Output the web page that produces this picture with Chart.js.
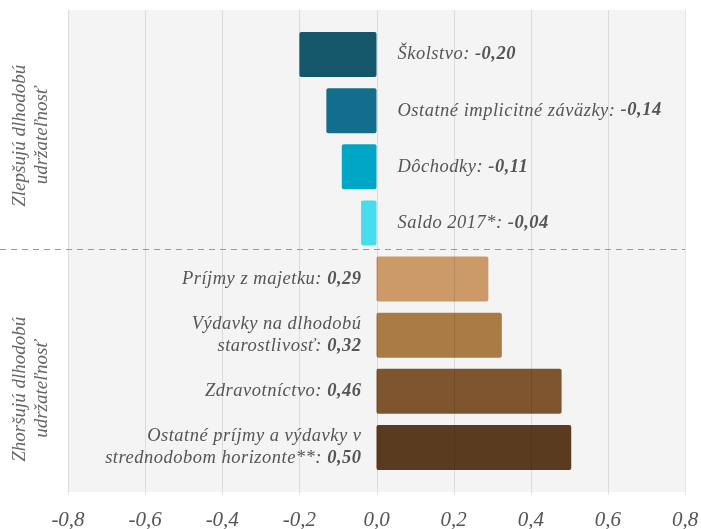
<!DOCTYPE html>
<html>
<head>
<meta charset="utf-8">
<script src="https://cdn.jsdelivr.net/npm/chart.js@4.4.1/dist/chart.umd.min.js"></script>
<style>
  html, body { margin: 0; padding: 0; background: #fff; }
</style>
</head>
<body>
<canvas id="chart" width="701" height="529"></canvas>
<script>
// categories (multi-line ones as arrays)
const categories = [
  'Školstvo',
  'Ostatné implicitné záväzky',
  'Dôchodky',
  'Saldo 2017*',
  'Príjmy z majetku',
  ['Výdavky na dlhodobú', 'starostlivosť'],
  'Zdravotníctvo',
  ['Ostatné príjmy a výdavky v', 'strednodobom horizonte**']
];
// bar lengths as drawn in the picture
const barValues = [-0.20, -0.13, -0.09, -0.04, 0.29, 0.325, 0.48, 0.505];
// values as printed next to the bars
const printedValues = ['-0,20', '-0,14', '-0,11', '-0,04', '0,29', '0,32', '0,46', '0,50'];
const barColors = ['#14576b', '#136d8c', '#00a6c6', '#48dcef', '#cc9a69', '#ab7b45', '#7f552f', '#5b3b20'];
const groupLabels = [['Zlepšujú dlhodobú', 'udržateľnosť'], ['Zhoršujú dlhodobú', 'udržateľnosť']];
const groupSize = 4;
const xTickValues = [-0.8, -0.6, -0.4, -0.2, 0, 0.2, 0.4, 0.6, 0.8];

const FONT = '"Liberation Serif", "DejaVu Serif", serif';
const TEXT = '#555';

const decor = {
  id: 'decor',
  beforeDatasetsDraw(chart) {
    const { ctx, chartArea: a } = chart;
    ctx.save();
    ctx.fillStyle = '#f4f4f4';
    ctx.fillRect(a.left, a.top - 16.5, a.right - a.left, a.bottom - a.top + 33);
    ctx.restore();
  },
  afterDatasetsDraw(chart) {
    const { ctx, chartArea: a } = chart;
    const x = chart.scales.x, y = chart.scales.y;
    ctx.save();
    // vertical grid lines on top of the bars
    ctx.strokeStyle = 'rgba(0,0,0,0.1)';
    ctx.lineWidth = 1;
    x.ticks.forEach(t => {
      const px = Math.round(x.getPixelForValue(t.value)) + 0.5;
      ctx.beginPath();
      ctx.moveTo(px, a.top - 16.5);
      ctx.lineTo(px, a.bottom + 19.5);
      ctx.stroke();
    });
    // dashed separator between the groups
    const sepY = Math.round((y.getPixelForValue(groupSize - 1) + y.getPixelForValue(groupSize)) / 2) - 1.5;
    ctx.strokeStyle = '#999';
    ctx.setLineDash([6, 5]);
    ctx.beginPath();
    ctx.moveTo(0, sepY);
    ctx.lineTo(a.right, sepY);
    ctx.stroke();
    ctx.setLineDash([]);

    // bar labels
    const zero = x.getPixelForValue(0);
    const normal = 'italic 18.5px ' + FONT;
    const bold = 'italic bold 18.5px ' + FONT;
    ctx.fillStyle = TEXT;
    ctx.textBaseline = 'middle';
    ctx.letterSpacing = '0.5px';
    categories.forEach((cat, i) => {
      const lines = Array.isArray(cat) ? cat.slice() : [cat];
      const cy = y.getPixelForValue(i);
      const lh = 22;
      const y0 = cy - (lines.length - 1) * lh / 2;
      lines.forEach((ln, j) => {
        const ly = y0 + j * lh;
        const last = j === lines.length - 1;
        const txt = last ? ln + ': ' : ln;
        const val = last ? printedValues[i] : '';
        ctx.font = normal;
        const wTxt = ctx.measureText(txt).width;
        ctx.font = bold;
        const wVal = ctx.measureText(val).width;
        if (barValues[i] < 0) {
          const lx = zero + 21;
          ctx.textAlign = 'left';
          ctx.font = normal;
          ctx.fillText(txt, lx, ly);
          ctx.font = bold;
          ctx.fillText(val, lx + wTxt, ly);
        } else {
          const rx = zero - 15;
          ctx.textAlign = 'right';
          ctx.font = bold;
          ctx.fillText(val, rx, ly);
          ctx.font = normal;
          ctx.fillText(txt, rx - wVal, ly);
        }
      });
    });
    ctx.letterSpacing = '0px';

    // rotated group labels on the left
    ctx.font = 'italic 19px ' + FONT;
    ctx.fillStyle = '#666';
    ctx.textAlign = 'center';
    const groupShift = [-3, 26];
    groupLabels.forEach((g, k) => {
      const first = y.getPixelForValue(k * groupSize);
      const lastBar = y.getPixelForValue(k * groupSize + groupSize - 1);
      const cy = (first + lastBar) / 2 + groupShift[k];
      ctx.save();
      ctx.translate(31, cy);
      ctx.rotate(-Math.PI / 2);
      g.forEach((ln, j) => ctx.fillText(ln, 0, (j - (g.length - 1) / 2) * 22));
      ctx.restore();
    });
    ctx.restore();
  }
};

new Chart(document.getElementById('chart'), {
  type: 'bar',
  data: {
    labels: categories,
    datasets: [{
      data: barValues,
      backgroundColor: barColors,
      borderWidth: 0,
      borderRadius: 2,
      borderSkipped: false,
      barPercentage: 0.8,
      categoryPercentage: 1
    }]
  },
  options: {
    indexAxis: 'y',
    responsive: false,
    animation: false,
    layout: { padding: { top: 26.5, right: 16, left: 68, bottom: 0 } },
    plugins: {
      legend: { display: false },
      tooltip: { enabled: false }
    },
    scales: {
      x: {
        min: -0.8,
        max: 0.8,
        afterBuildTicks: s => { s.ticks = xTickValues.map(v => ({ value: v })); },
        afterFit: s => { s.height = 53.5; s.paddingLeft = 0; s.paddingRight = 0; },
        grid: { display: false, drawTicks: false },
        border: { display: false },
        ticks: {
          padding: 32,
          color: TEXT,
          font: { family: FONT, size: 21, style: 'italic' },
          callback: v => Number(v).toFixed(1).replace('.', ',')
        }
      },
      y: {
        display: false
      }
    }
  },
  plugins: [decor]
});
</script>
</body>
</html>
